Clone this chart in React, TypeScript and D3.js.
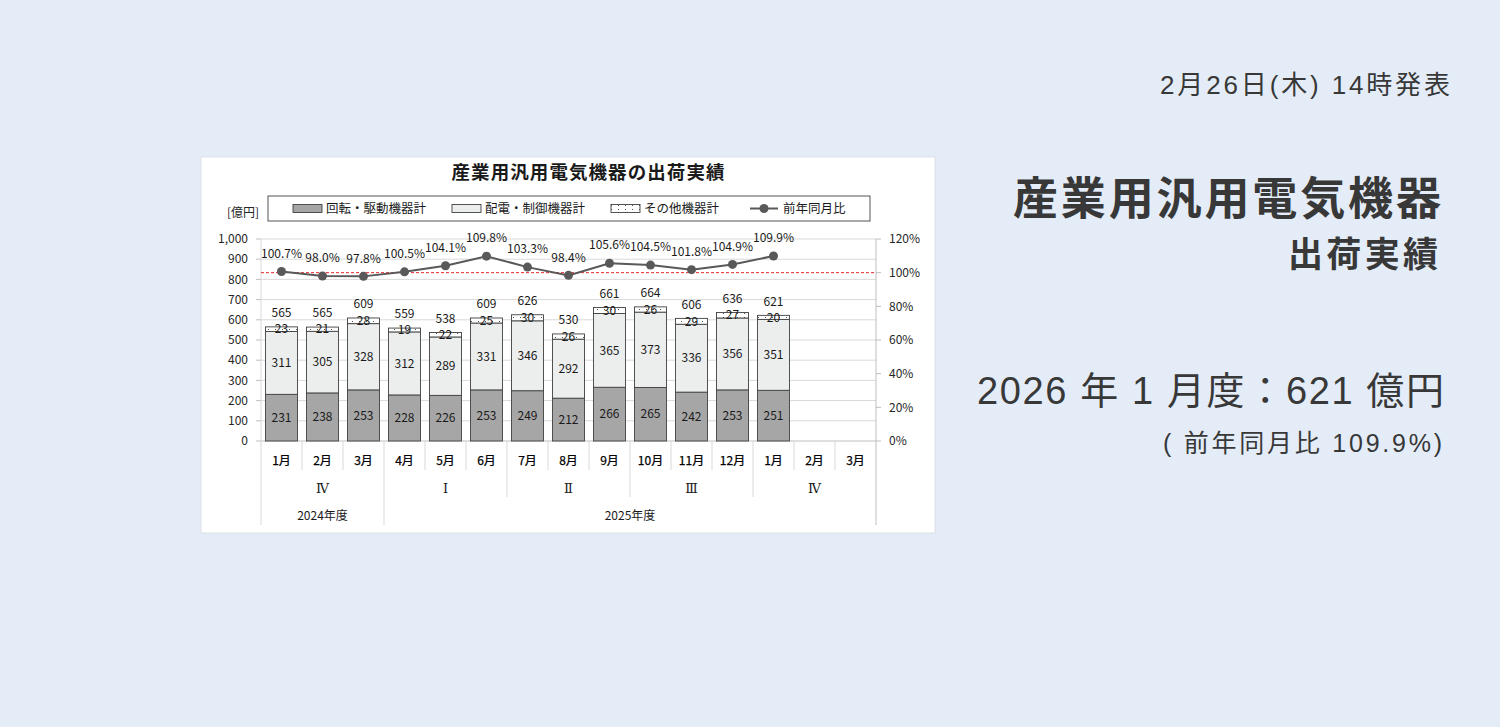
import { useRef, useEffect } from 'react'
import * as d3 from 'd3'

// months on the category axis (2024/1 .. 2026/3)
const months = ['1月', '2月', '3月', '4月', '5月', '6月', '7月', '8月', '9月', '10月', '11月', '12月', '1月', '2月', '3月']
const quarterLabels = ['Ⅳ', 'Ⅰ', 'Ⅱ', 'Ⅲ', 'Ⅳ']
const yearLabels = ['2024年度', '2025年度']
const yearMonthCounts = [3, 12]

// 億円
const rotating = [231, 238, 253, 228, 226, 253, 249, 212, 266, 265, 242, 253, 251]
const distribution = [311, 305, 328, 312, 289, 331, 346, 292, 365, 373, 336, 356, 351]
const others = [23, 21, 28, 19, 22, 25, 30, 26, 30, 26, 29, 27, 20]
const totals = [565, 565, 609, 559, 538, 609, 626, 530, 661, 664, 606, 636, 621]
// 前年同月比 (%)
const yoy = [100.7, 98.0, 97.8, 100.5, 104.1, 109.8, 103.3, 98.4, 105.6, 104.5, 101.8, 104.9, 109.9]

const seriesNames = ['回転・駆動機器計', '配電・制御機器計', 'その他機器計', '前年同月比']

const FONT = '"Noto Sans CJK JP", "Noto Sans", sans-serif'
const HEAD_FONT = '"Liberation Sans", "Noto Sans CJK JP", sans-serif'

export default function App() {
  const svgRef = useRef<SVGSVGElement>(null)

  useEffect(() => {
    if (!svgRef.current) return
    const svg = d3.select(svgRef.current)
    svg.selectAll('*').remove()

    const W = 1500
    const H = 727
    svg.attr('width', W).attr('height', H).attr('viewBox', `0 0 ${W} ${H}`)
      .style('font-family', FONT)

    svg.append('rect').attr('width', W).attr('height', H).attr('fill', '#e4ecf7')

    // dotted pattern for その他
    const defs = svg.append('defs')
    const pat = defs.append('pattern')
      .attr('id', 'dots').attr('patternUnits', 'userSpaceOnUse')
      .attr('width', 7).attr('height', 4)
    pat.append('rect').attr('width', 7).attr('height', 4).attr('fill', '#fff')
    pat.append('rect').attr('x', 2).attr('y', 1).attr('width', 1).attr('height', 1).attr('fill', '#555')

    // chart panel
    const panel = { x: 201, y: 157, w: 734, h: 376 }
    svg.append('rect')
      .attr('x', panel.x).attr('y', panel.y).attr('width', panel.w).attr('height', panel.h)
      .attr('fill', '#fff').attr('stroke', '#d8dde4').attr('stroke-width', 0.8)

    const plot = { left: 261, right: 876, top: 239, bottom: 441 }

    const x = d3.scaleBand<number>()
      .domain(d3.range(months.length))
      .range([plot.left, plot.right])
      .paddingInner(0.22).paddingOuter(0.11)
    const step = x.step()
    const cx = (i: number) => (x(i) ?? 0) + x.bandwidth() / 2

    const y = d3.scaleLinear().domain([0, 1000]).range([plot.bottom, plot.top])
    const yR = d3.scaleLinear().domain([0, 120]).range([plot.bottom, plot.top])

    const g = svg.append('g')

    // Grid lines
    g.selectAll('.grid')
      .data(y.ticks(10).filter(d => d > 0))
      .join('line')
      .attr('x1', plot.left).attr('x2', plot.right)
      .attr('y1', d => y(d)).attr('y2', d => y(d))
      .attr('stroke', '#d9d9d9').attr('stroke-width', 1)

    // Left axis
    const leftTicks = y.ticks(10)
    g.selectAll('.ltick')
      .data(leftTicks)
      .join('line')
      .attr('x1', plot.left - 5).attr('x2', plot.left)
      .attr('y1', d => y(d)).attr('y2', d => y(d))
      .attr('stroke', '#bfbfbf')
    g.selectAll('.llab')
      .data(leftTicks)
      .join('text')
      .attr('x', plot.left - 13).attr('y', d => y(d))
      .attr('dy', '0.35em').attr('text-anchor', 'end')
      .style('font-size', '12px').style('fill', '#262626')
      .text(d => d3.format(',')(d))
    g.append('text')
      .attr('x', 243).attr('y', 213).attr('dy', '0.35em')
      .attr('text-anchor', 'middle')
      .style('font-size', '12px').style('fill', '#262626')
      .text('[億円]')

    // Right axis
    const rightTicks = d3.range(0, 121, 20)
    g.append('line')
      .attr('x1', plot.right).attr('x2', plot.right)
      .attr('y1', plot.top).attr('y2', 525)
      .attr('stroke', '#bfbfbf')
    g.selectAll('.rtick')
      .data(rightTicks)
      .join('line')
      .attr('x1', plot.right).attr('x2', plot.right + 5)
      .attr('y1', d => yR(d)).attr('y2', d => yR(d))
      .attr('stroke', '#bfbfbf')
    g.selectAll('.rlab')
      .data(rightTicks)
      .join('text')
      .attr('x', plot.right + 13).attr('y', d => yR(d))
      .attr('dy', '0.35em').attr('text-anchor', 'start')
      .style('font-size', '12px').style('fill', '#262626')
      .text(d => `${d}%`)

    // X axis baseline + left edge
    g.append('line')
      .attr('x1', plot.left).attr('x2', plot.right)
      .attr('y1', plot.bottom).attr('y2', plot.bottom)
      .attr('stroke', '#bfbfbf')
    g.append('line')
      .attr('x1', plot.left).attr('x2', plot.left)
      .attr('y1', plot.top).attr('y2', 525)
      .attr('stroke', '#d9d9d9')

    // Category separators: month / quarter / year levels
    const yearBounds = yearMonthCounts.map((_, i) => d3.sum(yearMonthCounts.slice(0, i + 1)))
    d3.range(1, months.length).forEach(i => {
      const bx = plot.left + step * i
      let y2 = 470
      if (i % 3 === 0) y2 = 497
      if (yearBounds.includes(i)) y2 = 525
      g.append('line')
        .attr('x1', bx).attr('x2', bx)
        .attr('y1', plot.bottom).attr('y2', y2)
        .attr('stroke', '#d9d9d9')
    })

    g.selectAll('.mlab')
      .data(months)
      .join('text')
      .attr('x', (_, i) => cx(i)).attr('y', 461).attr('dy', '0.35em')
      .attr('text-anchor', 'middle')
      .style('font-size', '12px').style('fill', '#000')
      .style('stroke', '#000').style('stroke-width', 0.25)
      .text(d => d)

    g.selectAll('.qlab')
      .data(quarterLabels)
      .join('text')
      .attr('x', (_, i) => plot.left + step * (i * 3 + 1.5)).attr('y', 488).attr('dy', '0.35em')
      .attr('text-anchor', 'middle')
      .style('font-size', '13px').style('fill', '#1a1a1a')
      .style('font-family', '"DejaVu Serif", "Liberation Serif", serif')
      .text(d => d)

    g.selectAll('.ylab')
      .data(yearLabels)
      .join('text')
      .attr('x', (_, i) => plot.left + step * ((i === 0 ? 0 : yearBounds[i - 1]) + yearMonthCounts[i] / 2))
      .attr('y', 516).attr('dy', '0.35em')
      .attr('text-anchor', 'middle')
      .style('font-size', '12px').style('fill', '#1a1a1a')
      .text(d => d)

    // Stacked bars
    const rows = rotating.map((r, i) => ({ i, rot: r, dist: distribution[i], oth: others[i] }))
    const stack = d3.stack<typeof rows[number]>().keys(['rot', 'dist', 'oth'])
    const layers = stack(rows)
    const fills = ['#a6a6a6', '#eceeee', 'url(#dots)']

    layers.forEach((layer, li) => {
      g.selectAll(`.seg${li}`)
        .data(layer)
        .join('rect')
        .attr('x', d => x(d.data.i) ?? 0)
        .attr('width', x.bandwidth())
        .attr('y', d => y(d[1]))
        .attr('height', d => y(d[0]) - y(d[1]))
        .attr('fill', fills[li])
        .attr('stroke', '#404040').attr('stroke-width', 0.9)
    })

    // Red 100% reference line
    g.append('line')
      .attr('x1', plot.left).attr('x2', plot.right)
      .attr('y1', yR(100)).attr('y2', yR(100))
      .attr('stroke', '#e8262a').attr('stroke-width', 1)
      .attr('stroke-dasharray', '3,2')

    layers.forEach(layer => {
      g.selectAll('.seglab')
        .data(layer, (_, i) => `${layer.key}${i}`)
        .join('text')
        .attr('x', d => cx(d.data.i))
        .attr('y', d => y((d[0] + d[1]) / 2))
        .attr('dy', '0.35em').attr('text-anchor', 'middle')
        .style('font-size', '12px').style('fill', '#1a1a1a')
        .text(d => d.data[layer.key as 'rot' | 'dist' | 'oth'])
    })

    // Totals above bars
    g.selectAll('.tot')
      .data(totals)
      .join('text')
      .attr('x', (_, i) => cx(i))
      .attr('y', (_, i) => y(d3.sum([rotating[i], distribution[i], others[i]])) - 14)
      .attr('dy', '0.35em').attr('text-anchor', 'middle')
      .style('font-size', '12px').style('fill', '#1a1a1a')
      .text(d => d)

    // YoY line
    const line = d3.line<number>()
      .x((_, i) => cx(i))
      .y(d => yR(d))
    g.append('path')
      .datum(yoy)
      .attr('fill', 'none')
      .attr('stroke', '#595959')
      .attr('stroke-width', 2)
      .attr('d', line)
    g.selectAll('.dot')
      .data(yoy)
      .join('circle')
      .attr('cx', (_, i) => cx(i)).attr('cy', d => yR(d))
      .attr('r', 4.5).attr('fill', '#595959')
    g.selectAll('.yoylab')
      .data(yoy)
      .join('text')
      .attr('x', (_, i) => cx(i)).attr('y', d => yR(d) - 18)
      .attr('dy', '0.35em').attr('text-anchor', 'middle')
      .style('font-size', '12px').style('fill', '#1a1a1a')
      .text(d => `${d.toFixed(1)}%`)

    // Title
    svg.append('text')
      .attr('x', 588).attr('y', 173).attr('dy', '0.35em')
      .attr('text-anchor', 'middle')
      .attr('textLength', 273).attr('lengthAdjust', 'spacing')
      .style('font-size', '18.5px').style('font-weight', 'bold').style('fill', '#1a1a1a')
      .text('産業用汎用電気機器の出荷実績')

    // Legend
    const lg = svg.append('g')
    lg.append('rect')
      .attr('x', 268).attr('y', 196).attr('width', 602).attr('height', 25)
      .attr('fill', '#fff').attr('stroke', '#404040').attr('stroke-width', 0.9)
    const legendX = [293, 452, 611, 750]
    const ly = 208.5
    seriesNames.forEach((name, i) => {
      const lx = legendX[i]
      if (i < 3) {
        lg.append('rect')
          .attr('x', lx).attr('y', ly - 4).attr('width', 29).attr('height', 8)
          .attr('fill', fills[i]).attr('stroke', '#404040').attr('stroke-width', 0.9)
      } else {
        lg.append('line')
          .attr('x1', lx).attr('x2', lx + 28).attr('y1', ly).attr('y2', ly)
          .attr('stroke', '#595959').attr('stroke-width', 2)
        lg.append('circle').attr('cx', lx + 14).attr('cy', ly).attr('r', 4.5).attr('fill', '#595959')
      }
      lg.append('text')
        .attr('x', lx + 33).attr('y', ly).attr('dy', '0.35em')
        .style('font-size', '12.5px').style('fill', '#1a1a1a')
        .text(name)
    })

    // Right-hand headline
    const rt = svg.append('g').style('fill', '#383838').style('font-family', HEAD_FONT)
    const head = (txt: string, xr: number, yc: number, size: number, len: number, weight = 'normal') =>
      rt.append('text')
        .attr('x', xr - len).attr('y', yc).attr('dy', '0.35em')
        .attr('textLength', len).attr('lengthAdjust', 'spacing')
        .style('font-size', `${size}px`).style('font-weight', weight)
        .text(txt)
    head('2月26日(木) 14時発表', 1450, 85, 26, 290)
    head('産業用汎用電気機器', 1441, 199, 45, 428, 'bold')
    head('出荷実績', 1438, 255, 35, 150, 'bold')
    head('2026 年 1 月度：621 億円', 1444, 391, 38, 467)
    head('( 前年同月比 109.9%)', 1442, 443, 25, 279)
  }, [])

  return (
    <svg ref={svgRef} style={{ position: 'absolute', left: 0, top: 0, display: 'block' }} />
  )
}
